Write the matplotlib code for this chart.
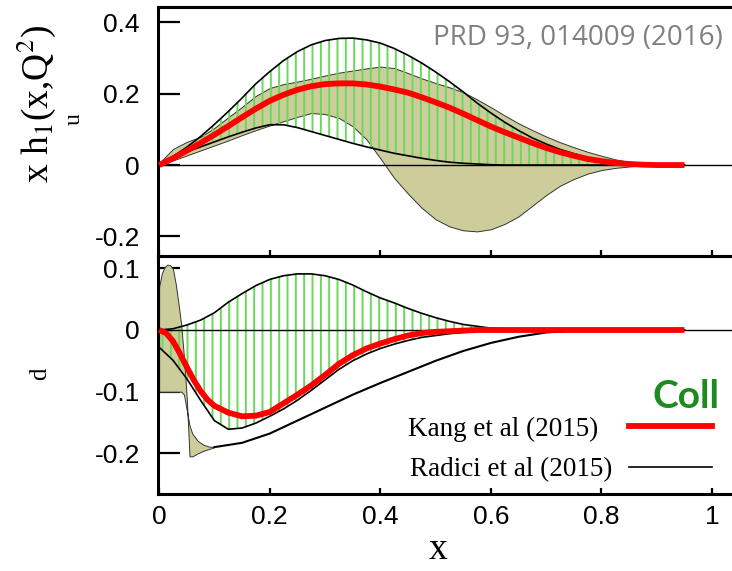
import numpy as np
import matplotlib
matplotlib.use("Agg")
import matplotlib.pyplot as plt
from matplotlib.lines import Line2D

plt.rcParams['mathtext.fontset'] = 'stix'

# ---- u quark panel -------------------------------------------------------
x_u = [0.0, 0.025, 0.05, 0.075, 0.1, 0.125, 0.15, 0.175, 0.2, 0.225, 0.25,
       0.275, 0.3, 0.325, 0.35, 0.375, 0.4, 0.425, 0.45, 0.475, 0.5, 0.525,
       0.55, 0.575, 0.6, 0.625, 0.65, 0.675, 0.7, 0.725, 0.75, 0.775, 0.8,
       0.825, 0.85, 0.875, 0.9, 0.925, 0.95]
kang_u = [0.0, 0.019, 0.040, 0.062, 0.085, 0.109, 0.134, 0.158, 0.180, 0.197,
          0.211, 0.221, 0.227, 0.229, 0.229, 0.226, 0.220, 0.212, 0.203, 0.190,
          0.176, 0.161, 0.144, 0.126, 0.108, 0.092, 0.077, 0.062, 0.048, 0.036,
          0.026, 0.017, 0.011, 0.006, 0.003, 0.001, 0.0, 0.0, 0.0]
kang_u_hi = [0.0, 0.024, 0.050, 0.080, 0.114, 0.150, 0.188, 0.228, 0.262,
             0.293, 0.318, 0.337, 0.349, 0.355, 0.356, 0.351, 0.342, 0.327,
             0.308, 0.286, 0.261, 0.234, 0.205, 0.174, 0.146, 0.120, 0.097,
             0.076, 0.059, 0.044, 0.032, 0.021, 0.013, 0.007, 0.003, 0.001,
             0.0, 0.0, 0.0]
kang_u_lo = [0.0, 0.019, 0.037, 0.051, 0.065, 0.079, 0.092, 0.104, 0.113,
             0.113, 0.105, 0.094, 0.083, 0.072, 0.061, 0.051, 0.042, 0.033,
             0.026, 0.019, 0.013, 0.008, 0.005, 0.003, 0.001, 0.0, 0.0, 0.0,
             0.0, 0.0, 0.0, 0.0, 0.0, 0.0, 0.0, 0.0, 0.0, 0.0, 0.0]
radici_u_hi = [0.005, 0.045, 0.065, 0.079, 0.104, 0.134, 0.163, 0.194, 0.216,
               0.227, 0.234, 0.242, 0.251, 0.259, 0.265, 0.271, 0.276, 0.272,
               0.258, 0.243, 0.230, 0.218, 0.204, 0.184, 0.162, 0.139, 0.117,
               0.098, 0.080, 0.064, 0.050, 0.037, 0.026, 0.016, 0.009, 0.004,
               0.001, 0.0, 0.0]
radici_u_lo = [0.0, 0.013, 0.027, 0.041, 0.055, 0.069, 0.084, 0.098, 0.111,
               0.123, 0.135, 0.146, 0.143, 0.132, 0.109, 0.072, 0.019, -0.036,
               -0.080, -0.120, -0.152, -0.172, -0.183, -0.186, -0.180, -0.165,
               -0.144, -0.114, -0.084, -0.058, -0.039, -0.024, -0.014, -0.008,
               -0.004, -0.001, 0.0, 0.0, 0.0]

# ---- d quark panel -------------------------------------------------------
x_d = x_u
kang_d_hi = [0.0, 0.002, 0.008, 0.016, 0.028, 0.045, 0.059, 0.072, 0.082,
             0.088, 0.091, 0.091, 0.088, 0.082, 0.073, 0.062, 0.052, 0.044,
             0.035, 0.027, 0.020, 0.014, 0.009, 0.006, 0.003, 0.002, 0.001,
             0.0, 0.0, 0.0, 0.0, 0.0, 0.0, 0.0, 0.0, 0.0, 0.0, 0.0, 0.0]
kang_d_lo = [-0.028, -0.049, -0.079, -0.114, -0.147, -0.161, -0.159, -0.151,
             -0.140, -0.128, -0.114, -0.098, -0.081, -0.064, -0.050, -0.039,
             -0.030, -0.023, -0.017, -0.012, -0.009, -0.006, -0.004, -0.002,
             -0.001, 0.0, 0.0, 0.0, 0.0, 0.0, 0.0, 0.0, 0.0, 0.0, 0.0, 0.0,
             0.0, 0.0, 0.0]

# central Kang d curve, read more finely near the turn-over at small x
x_kd = [0.0, 0.0125, 0.025, 0.0375, 0.05, 0.0625, 0.075, 0.0875, 0.1, 0.125,
        0.15, 0.175, 0.2, 0.225, 0.25, 0.275, 0.3, 0.325, 0.35, 0.375, 0.4,
        0.425, 0.45, 0.475, 0.5, 0.525, 0.55, 0.575, 0.6, 0.7, 0.8, 0.9, 0.95]
kang_d = [0.0, -0.005, -0.018, -0.038, -0.060, -0.081, -0.099, -0.113, -0.123,
          -0.134, -0.140, -0.139, -0.133, -0.119, -0.105, -0.090, -0.073,
          -0.055, -0.041, -0.030, -0.022, -0.015, -0.009, -0.005, -0.003,
          -0.002, -0.001, 0.0, 0.0, 0.0, 0.0, 0.0, 0.0]

# Radici d band only has visible width at small x
x_rd = [0.0, 0.005, 0.01, 0.015, 0.02, 0.025, 0.03, 0.035, 0.04, 0.045, 0.05,
        0.055, 0.06, 0.07, 0.08, 0.09, 0.1]
radici_d_a = [0.07, 0.092, 0.102, 0.106, 0.105, 0.099, 0.075, 0.043, 0.008,
              -0.045, -0.11, -0.205, -0.205, -0.2, -0.196, -0.193, -0.19]
radici_d_b = [-0.1, -0.1, -0.1, -0.1, -0.1, -0.1, -0.1, -0.1, -0.1, -0.105,
              -0.13, -0.155, -0.168, -0.18, -0.186, -0.189, -0.19]
x_rl = [0.1, 0.15, 0.2, 0.25, 0.3, 0.35, 0.4, 0.45, 0.5, 0.55, 0.6, 0.65, 0.7,
        0.75, 0.8]
radici_d_line = [-0.19, -0.183, -0.168, -0.147, -0.126, -0.105, -0.086,
                 -0.068, -0.050, -0.034, -0.021, -0.011, -0.004, -0.001, 0.0]

xticks = [0, 0.2, 0.4, 0.6, 0.8, 1.0]
xtick_labels = ["0", "0.2", "0.4", "0.6", "0.8", "1"]
yticks_u = [-0.2, 0, 0.2, 0.4]
ytick_labels_u = ["-0.2", "0", "0.2", "0.4"]
yticks_d = [-0.2, -0.1, 0, 0.1]
ytick_labels_d = ["-0.2", "-0.1", "0", "0.1"]

olive = "#cdcd9c"
hatch_green = "#6ad85a"
plt.rcParams['hatch.linewidth'] = 1.4

W, H = 732, 571
fig = plt.figure(figsize=(W / 100, H / 100), dpi=100)
ax1 = fig.add_axes([158 / W, 1 - 256 / H, (W - 158) / W, (256 - 6.7) / H])
ax2 = fig.add_axes([158 / W, 1 - 494 / H, (W - 158) / W, (494 - 256) / H])


def draw_band(ax, x, lo, hi):
    ax.fill_between(x, lo, hi, facecolor="none", edgecolor=hatch_green,
                    linewidth=0, hatch="||", zorder=3)
    ax.plot(x, hi, color="black", lw=1.2, zorder=4)
    ax.plot(x, lo, color="black", lw=1.2, zorder=4)


# top panel
ax1.fill_between(x_u, radici_u_lo, radici_u_hi, facecolor=olive,
                 edgecolor="#333333", linewidth=0.7, zorder=2)
draw_band(ax1, x_u, kang_u_lo, kang_u_hi)
ax1.plot(x_u, kang_u, color="#ff0000", lw=4.2, zorder=6, solid_capstyle="butt")

# bottom panel
ax2.fill_between(x_rd, radici_d_b, radici_d_a, facecolor=olive,
                 edgecolor="#333333", linewidth=0.7, interpolate=True, zorder=2)
draw_band(ax2, x_d, kang_d_lo, kang_d_hi)
ax2.plot(x_rl, radici_d_line, color="black", lw=1.5, zorder=4)
ax2.plot(x_kd, kang_d, color="#ff0000", lw=4.2, zorder=6, solid_capstyle="butt")

for ax, yt, ytl, ylim in [(ax1, yticks_u, ytick_labels_u, (-0.255, 0.444)),
                          (ax2, yticks_d, ytick_labels_d, (-0.266, 0.12))]:
    ax.axhline(0, color="black", lw=1.0, zorder=5)
    ax.set_xlim(-0.002, 1.036)
    ax.set_ylim(*ylim)
    ax.set_xticks(xticks)
    ax.set_yticks(yt)
    ax.set_yticklabels(ytl)
    ax.spines["right"].set_visible(False)
    for s in ["left", "top", "bottom"]:
        ax.spines[s].set_linewidth(2.2)
    ax.tick_params(axis="y", direction="in", length=16, width=1.6, pad=13,
                   labelsize=19)
    ax.tick_params(axis="x", direction="in", length=4, width=1.6, pad=8,
                   labelsize=19)
    for lab in ax.get_xticklabels() + ax.get_yticklabels():
        lab.set_family("Liberation Sans")

ax1.set_xticklabels([])
ax2.set_xticklabels(xtick_labels)
for lab in ax2.get_xticklabels():
    lab.set_family("Liberation Sans")

# labels
fig.text(36 / W, 1 - 104 / H, r"x h$_1$(x,Q$^2$)", rotation=90, ha="center",
         va="center", fontsize=27, family="Liberation Serif")
fig.text(74 / W, 1 - 119 / H, "u", rotation=90, ha="center", va="center",
         fontsize=17, family="Liberation Serif")
fig.text(40 / W, 1 - 374 / H, "d", rotation=90, ha="center", va="center",
         fontsize=18, family="Liberation Serif")
fig.text(438 / W, 1 - 550 / H, "x", ha="center", va="center", fontsize=27,
         family="Liberation Serif")

fig.text(723 / W, 1 - 38 / H, "PRD 93, 014009 (2016)", ha="right",
         va="center", fontsize=20, family="Open Sans", color="#808080")

fig.text(719 / W, 1 - 397 / H, "Coll", ha="right", va="center", fontsize=28,
         family="Lato", fontweight="bold", color="#1f8a1f")

handles = [Line2D([], [], color="#ff0000", lw=4.2),
           Line2D([], [], color="black", lw=1.2)]
labels = ["Kang et al (2015)  ", "Radici et al (2015)"]
leg = ax2.legend(handles, labels, loc="lower right",
                 bbox_to_anchor=(0.965, 0.05), frameon=False, borderpad=0,
                 borderaxespad=0, markerfirst=False, handlelength=3.06,
                 handletextpad=0.63, labelspacing=0.57,
                 prop={"family": "Liberation Serif", "size": 19.5})

fig.savefig("out.png", dpi=100)
